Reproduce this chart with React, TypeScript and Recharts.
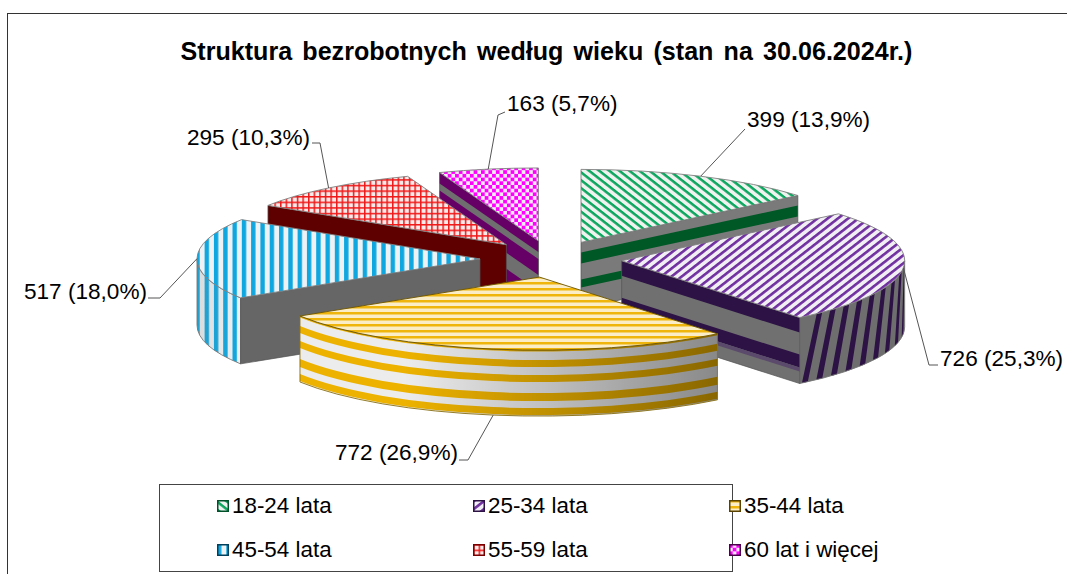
import React from "react";
import { PieChart, Pie, Legend } from "recharts";

const categories = ["18-24 lata", "25-34 lata", "35-44 lata", "45-54 lata", "55-59 lata", "60 lat i więcej"];
const counts = [399, 726, 772, 517, 295, 163];
const total = counts.reduce((a, b) => a + b, 0);

// back to front, the slices overlap each other in this order
const drawOrder = [0, 5, 4, 3, 1, 2];

const rows = categories.map((name, i) => ({ name, value: counts[i], idx: i }));

const FONT = '"Liberation Sans", Arial, sans-serif';
const SQUASH = 0.258;
const DEPTH = 66;
const EXPLODE = 71;

const patternIds = ["pGreen", "pPurple", "pYellow", "pBlue", "pRed", "pMagenta"];
const legendEdge = ["#00502a", "#2d1245", "#5a4300", "#00405c", "#7a0000", "#4a004a"];

// depth bands on the cut faces: [from, to, colour], over a solid base
const wallStyles = [
  { base: "#7a7a7a", bands: [[10, 21, "#005826"], [37, 45, "#005826"]] },
  { base: "#707070", bands: [[0, 15, "#2d1245"], [37, 50, "#2d1245"], [50, 54, "#5b4a6b"]] },
  { base: "#777777", bands: [] },
  { base: "#666666", bands: [] },
  { base: "#5e0000", bands: [] },
  { base: "#6f6f6f", bands: [[0, 11, "#660066"], [18, 34, "#660066"], [50, 66, "#660066"]] },
];

const yellowRimBands = [[0, 1.5], [10, 17], [25, 32], [43, 51], [58, 65]];

// leader elbow, tail end and text position of each label
const labelLayout = [
  { depth: 0, elbow: [745, 129], tail: [745, 129], x: 747, y: 127, anchor: "start" },
  { depth: 0, elbow: [929, 365], tail: [938, 365], x: 940, y: 366, anchor: "start" },
  { depth: DEPTH, elbow: [468, 460], tail: [459, 460], x: 458, y: 460, anchor: "end" },
  { depth: 0, elbow: [160, 298], tail: [148, 298], x: 147, y: 299, anchor: "end" },
  { depth: 0, elbow: [320, 143], tail: [312, 143], x: 310, y: 145, anchor: "end" },
  { depth: 0, elbow: [498, 115], tail: [505, 112], x: 507, y: 111, anchor: "start" },
];

const labelText = (v: number) => `${v} (${((v / total) * 100).toFixed(1).replace(".", ",")}%)`;

const Slice = (props: any) => {
  const { cx, cy, outerRadius, startAngle, endAngle, payload } = props;
  const i: number = payload.idx;
  const rx = outerRadius;
  const ry = outerRadius * SQUASH;
  const t1 = 90 - startAngle;
  const t2 = 90 - endAngle;
  const rad = (d: number) => (d * Math.PI) / 180;
  const mid = (t1 + t2) / 2;
  const ax = cx + EXPLODE * Math.sin(rad(mid));
  const ay = cy - EXPLODE * SQUASH * Math.cos(rad(mid));
  const pt = (t: number, d = 0) => [ax + rx * Math.sin(rad(t)), ay - ry * Math.cos(rad(t)) + d];
  const fmt = (p: number[]) => `${p[0].toFixed(2)} ${p[1].toFixed(2)}`;

  const rimPath = (a: number, b: number, d1: number, d2: number) =>
    `M${fmt(pt(a, d1))} A${rx} ${ry} 0 0 1 ${fmt(pt(b, d1))} L${fmt(pt(b, d2))} A${rx} ${ry} 0 0 0 ${fmt(pt(a, d2))} Z`;
  const wallPath = (t: number, d1: number, d2: number) =>
    `M${ax} ${ay + d1} L${fmt(pt(t, d1))} L${fmt(pt(t, d2))} L${ax} ${ay + d2} Z`;

  const faces: React.ReactNode[] = [];

  // rim, only the part that faces the viewer
  const r1 = Math.max(t1, 90);
  const r2 = Math.min(t2, 270);
  if (r2 > r1) {
    const outline = rimPath(r1, r2, 0, DEPTH);
    if (i === 1) {
      faces.push(<path key="rim" d={outline} fill="#6e6e6e" />);
      // slanted stripes, they crowd towards the silhouette of the rim
      let a = r2 - 1;
      while (a > r1 - 6) {
        const step = 3.5 + (141 - a) * 0.085;
        const w = step * 0.4;
        const slant = 4;
        const topA = Math.max(a - w, r1);
        const topB = Math.min(a, r2);
        const botA = Math.min(a - w + slant, r2);
        const botB = Math.min(a + slant, r2);
        if (topB > topA && botB > botA) {
          faces.push(
            <path
              key={`st${a}`}
              d={`M${fmt(pt(topA))} A${rx} ${ry} 0 0 1 ${fmt(pt(topB))} L${fmt(pt(botB, DEPTH))} A${rx} ${ry} 0 0 0 ${fmt(pt(botA, DEPTH))} Z`}
              fill="#2d1245"
            />
          );
        }
        a -= step;
      }
    } else if (i === 2) {
      faces.push(<path key="rim" d={outline} fill="#ececec" />);
      yellowRimBands.forEach(([d1, d2], k) => {
        faces.push(<path key={`b${k}`} d={rimPath(r1, r2, d1, d2)} fill="#EDB200" />);
      });
      faces.push(<path key="shade" d={outline} fill="url(#shadeYellow)" />);
    } else {
      faces.push(<path key="rim" d={outline} fill={`url(#${patternIds[i]})`} />);
      faces.push(<path key="shade" d={outline} fill="url(#shadeBlue)" />);
    }
    faces.push(<path key="rimEdge" d={outline} fill="none" stroke={i === 2 ? "#8a6f10" : "#777"} strokeWidth={0.9} />);
  }

  // cut faces, drawn if they turn towards the viewer
  const walls: number[] = [];
  if (-Math.sin(rad(t1)) > 0.01) walls.push(t1);
  if (Math.sin(rad(t2)) > 0.01) walls.push(t2);
  walls.forEach((t) => {
    const st = wallStyles[i];
    faces.push(<path key={`w${t}`} d={wallPath(t, 0, DEPTH)} fill={st.base} />);
    st.bands.forEach(([d1, d2, c]: any, k: number) => {
      faces.push(<path key={`w${t}b${k}`} d={wallPath(t, d1, d2)} fill={c} />);
    });
    faces.push(<path key={`w${t}e`} d={wallPath(t, 0, DEPTH)} fill="none" stroke="#555" strokeWidth={0.7} />);
  });

  const l = labelLayout[i];
  const start = pt(mid, l.depth);

  return (
    <g>
      {faces}
      <path
        d={`M${ax} ${ay} L${fmt(pt(t1))} A${rx} ${ry} 0 0 1 ${fmt(pt(t2))} Z`}
        fill={`url(#${patternIds[i]})`}
        stroke={i === 2 ? "#6b5400" : "#808080"}
        strokeWidth={0.9}
      />
      <polyline
        points={`${fmt(start)} ${l.elbow.join(" ")} ${l.tail.join(" ")}`}
        fill="none"
        stroke="#555"
        strokeWidth={1}
      />
      <text x={l.x} y={l.y} textAnchor={l.anchor as any} fontFamily={FONT} fontSize={22.6} fill="#000">
        {labelText(counts[i])}
      </text>
    </g>
  );
};

const ChartLegend = () => (
  <div
    style={{
      boxSizing: "border-box",
      width: 574,
      height: 88,
      border: "1.5px solid #444",
      position: "relative",
      fontFamily: FONT,
      fontSize: 22.4,
      color: "#000",
      background: "#fff",
    }}
  >
    {categories.map((name, i) => (
      <div
        key={name}
        style={{
          position: "absolute",
          left: 57 + (i % 3) * 256,
          top: i < 3 ? 8 : 52,
          height: 26,
          lineHeight: "26px",
          whiteSpace: "nowrap",
        }}
      >
        <svg width={12} height={12} style={{ position: "absolute", left: 0, top: 7 }}>
          <rect x={0.75} y={0.75} width={10.5} height={10.5} fill={`url(#${patternIds[i]})`} stroke={legendEdge[i]} strokeWidth={1.5} />
        </svg>
        <span style={{ marginLeft: 15 }}>{name}</span>
      </div>
    ))}
  </div>
);

const App: React.FC = () => {
  return (
    <div style={{ position: "fixed", left: 0, top: 0, width: 1067, height: 574, background: "#fff", overflow: "hidden" }}>
      <div style={{ position: "absolute", left: 7, top: 13, width: 1060, height: 561, borderLeft: "1.5px solid #333", borderTop: "1.5px solid #333" }} />
      <PieChart width={1067} height={574} margin={{ top: 0, right: 0, bottom: 0, left: 0 }} style={{ position: "absolute", left: 0, top: 0 }}>
        <defs>
          <pattern id="pGreen" width={6.2} height={6.2} patternUnits="userSpaceOnUse" patternTransform="rotate(38)">
            <rect width={6.2} height={6.2} fill="#f0f2f0" />
            <rect width={6.2} height={2.5} fill="#0CA75F" />
          </pattern>
          <pattern id="pPurple" width={6.3} height={6.3} patternUnits="userSpaceOnUse" patternTransform="rotate(-38)">
            <rect width={6.3} height={6.3} fill="#f1eff4" />
            <rect width={6.3} height={2.6} fill="#7030A0" />
          </pattern>
          <pattern id="pYellow" width={6} height={6} patternUnits="userSpaceOnUse">
            <rect width={6} height={6} fill="#fbeec6" />
            <rect width={6} height={2.5} fill="#F0B50C" />
          </pattern>
          <pattern id="pBlue" width={9.3} height={9.3} patternUnits="userSpaceOnUse">
            <rect width={9.3} height={9.3} fill="#eef2f4" />
            <rect width={4.4} height={9.3} fill="#0FA7E0" />
          </pattern>
          <pattern id="pRed" width={5.6} height={5.6} patternUnits="userSpaceOnUse">
            <rect width={5.6} height={5.6} fill="#f6eaea" />
            <rect width={1.5} height={5.6} fill="#F01818" />
            <rect width={5.6} height={1.5} fill="#F01818" />
          </pattern>
          <pattern id="pMagenta" width={7.4} height={7.4} patternUnits="userSpaceOnUse">
            <rect width={7.4} height={7.4} fill="#f4ecf4" />
            <rect width={3.7} height={3.7} fill="#FF00FF" />
            <rect x={3.7} y={3.7} width={3.7} height={3.7} fill="#FF00FF" />
          </pattern>
          <linearGradient id="shadeYellow" x1="0" y1="0" x2="1" y2="0">
            <stop offset="0.25" stopColor="#000" stopOpacity={0} />
            <stop offset="1" stopColor="#000" stopOpacity={0.42} />
          </linearGradient>
          <linearGradient id="shadeBlue" x1="0" y1="0" x2="1" y2="0">
            <stop offset="0" stopColor="#808080" stopOpacity={0.2} />
            <stop offset="1" stopColor="#808080" stopOpacity={0} />
          </linearGradient>
        </defs>
        <text x={546.5} y={60} textAnchor="middle" fontFamily={FONT} fontWeight="bold" fontSize={25.1} wordSpacing={3.2}>
          Struktura bezrobotnych według wieku (stan na 30.06.2024r.)
        </text>
        {drawOrder.map((slot) => (
          <Pie
            key={slot}
            data={rows}
            dataKey="value"
            nameKey="name"
            cx={551}
            cy={259}
            outerRadius={283}
            startAngle={90}
            endAngle={-270}
            stroke="none"
            isAnimationActive={false}
            shape={(p: any) => (p.payload.idx === slot ? <Slice {...p} /> : <g />)}
          />
        ))}
        <Legend
          content={<ChartLegend />}
          wrapperStyle={{ position: "absolute", left: 159, top: 484, width: 574, height: 88, bottom: "auto" }}
        />
      </PieChart>
    </div>
  );
};

export default App;
